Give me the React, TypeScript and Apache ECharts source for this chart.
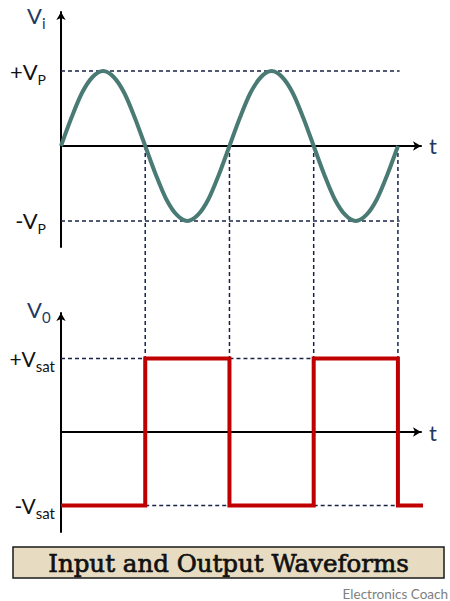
import React, { useEffect, useRef } from "react";
import * as echarts from "echarts";

// ---- data (time in periods of the input sine, amplitude in units of Vp / Vsat) ----
const inputT = [
  0, 0.0625, 0.125, 0.1875, 0.25, 0.3125, 0.375, 0.4375, 0.5, 0.5625, 0.625, 0.6875, 0.75, 0.8125, 0.875, 0.9375,
  1, 1.0625, 1.125, 1.1875, 1.25, 1.3125, 1.375, 1.4375, 1.5, 1.5625, 1.625, 1.6875, 1.75, 1.8125, 1.875, 1.9375, 2,
];
const inputV = [
  0, 0.38, 0.71, 0.92, 1, 0.92, 0.71, 0.38, 0, -0.38, -0.71, -0.92, -1, -0.92, -0.71, -0.38,
  0, 0.38, 0.71, 0.92, 1, 0.92, 0.71, 0.38, 0, -0.38, -0.71, -0.92, -1, -0.92, -0.71, -0.38, 0,
];
const outputT = [0, 0.5, 1, 1.5, 2, 2.16];
const outputV = [-1, 1, -1, 1, -1, -1];
const crossings = [0.5, 1, 1.5, 2];
const inputRefLevels = [1, -1];
const inputRefEnd = 2.01;
const satHighSegments = [[0, 0.5], [1, 1.5]];
const satLowSegments = [[0.5, 1], [1.5, 2]];
const inputTickValues = [1, -1];
const inputTickMain = ["+V", "-V"];
const inputTickSub = ["P", "P"];
const outputTickValues = [1, -1];
const outputTickMain = ["+V", "-V"];
const outputTickSub = ["sat", "sat"];

const NAVY = "#1f3864";
const DASH = "#18234a";
const FONT = "Lato";

export default function App() {
  const ref = useRef<HTMLDivElement>(null);
  useEffect(() => {
    if (!ref.current) return;
    const chart = echarts.init(ref.current, null, { renderer: "svg" });

    const axisLine = {
      onZero: true,
      symbol: ["none", "arrow"],
      symbolSize: [7, 8],
      lineStyle: { color: "#000", width: 2 },
    };
    const xAxisBase = (gridIndex: number) => ({
      type: "value",
      gridIndex,
      min: 0,
      max: 2.137,
      axisLine,
      axisTick: { show: false },
      axisLabel: { show: false },
      splitLine: { show: false },
      name: "t",
      nameLocation: "end",
      nameGap: 8,
      nameTextStyle: { color: NAVY, fontSize: 22, fontFamily: FONT, verticalAlign: "middle" },
    });
    const richLabel = (mainSize: number, subSize: number) => ({
      m: { fontSize: mainSize, fontFamily: FONT, color: "#111", lineHeight: 30 },
      s: { fontSize: subSize, fontFamily: FONT, color: "#111", lineHeight: 14, verticalAlign: "bottom" },
    });

    const dashedStyle = { color: DASH, width: 1.5, type: [4, 3] as any };
    const dashSeries = (xAxisIndex: number, y: number, a: number, b: number) => ({
      type: "line",
      xAxisIndex,
      yAxisIndex: xAxisIndex,
      data: [[a, y], [b, y]],
      symbol: "none",
      silent: true,
      z: 1,
      lineStyle: dashedStyle,
    });

    const series: any[] = [
      {
        type: "line",
        xAxisIndex: 0,
        yAxisIndex: 0,
        data: inputT.map((t, i) => [t, inputV[i]]),
        smooth: 0.3,
        symbol: "none",
        z: 5,
        lineStyle: { color: "#4a7a74", width: 4 },
      },
      {
        type: "line",
        xAxisIndex: 1,
        yAxisIndex: 1,
        data: outputT.map((t, i) => [t, outputV[i]]),
        step: "end",
        symbol: "none",
        clip: false,
        z: 5,
        lineStyle: { color: "#c00000", width: 4, join: "miter" },
      },
      ...inputRefLevels.map((v) => dashSeries(0, v, 0, inputRefEnd)),
      ...satHighSegments.map((s) => dashSeries(1, 1, s[0], s[1])),
      ...satLowSegments.map((s) => dashSeries(1, -1, s[0], s[1])),
    ];

    chart.setOption({
      animation: false,
      backgroundColor: "#fff",
      grid: [
        { left: 61, width: 360, top: 12, height: 235 },
        { left: 61, width: 360, top: 313, height: 219 },
      ],
      xAxis: [xAxisBase(0), xAxisBase(1)],
      yAxis: [
        {
          type: "value",
          gridIndex: 0,
          min: -1.347,
          max: 1.787,
          axisLine,
          axisTick: { show: false },
          splitLine: { show: false },
          axisLabel: {
            customValues: inputTickValues,
            margin: 15,
            formatter: (v: number) => {
              const i = inputTickValues.indexOf(v);
              return i < 0 ? "" : `{m|${inputTickMain[i]}}{s|${inputTickSub[i]}}`;
            },
            rich: richLabel(22, 14),
          },
        },
        {
          type: "value",
          gridIndex: 1,
          min: -1.36,
          max: 1.619,
          axisLine,
          axisTick: { show: false },
          splitLine: { show: false },
          axisLabel: {
            customValues: outputTickValues,
            margin: 6,
            formatter: (v: number) => {
              const i = outputTickValues.indexOf(v);
              return i < 0 ? "" : `{m|${outputTickMain[i]}}{s|${outputTickSub[i]}}`;
            },
            rich: richLabel(21, 15),
          },
        },
      ],
      series,
    });

    const verticals = crossings.map((t) => {
      const p1 = chart.convertToPixel({ xAxisIndex: 0, yAxisIndex: 0 }, [t, 0]) as number[];
      const p2 = chart.convertToPixel({ xAxisIndex: 1, yAxisIndex: 1 }, [t, 1]) as number[];
      return {
        type: "line",
        silent: true,
        z: 1,
        shape: { x1: p1[0], y1: p1[1], x2: p2[0], y2: p2[1] },
        style: { stroke: DASH, lineWidth: 1.5, lineDash: [4, 3] },
      };
    });

    const axisTitle = (main: string, sub: string, x: number, y: number) => ({
      type: "text",
      x,
      y,
      style: {
        text: `{m|${main}}{s|${sub}}`,
        verticalAlign: "middle",
        rich: {
          m: { fontSize: 22, fontFamily: FONT, fill: NAVY, lineHeight: 30 },
          s: { fontSize: 15, fontFamily: FONT, fill: NAVY, lineHeight: 14, verticalAlign: "bottom" },
        },
      },
    });

    chart.setOption({
      graphic: [
        ...verticals,
        axisTitle("V", "i", 27, 15),
        axisTitle("V", "0", 27, 309),
        {
          type: "rect",
          shape: { x: 13, y: 547, width: 431, height: 31 },
          style: { fill: "#e7dcc1", stroke: "#1a1a1a", lineWidth: 1.5 },
        },
        {
          type: "text",
          x: 228.5,
          y: 563,
          style: {
            text: "Input and Output Waveforms",
            fontFamily: "DejaVu Serif",
            fontSize: 24.5,
            fill: "#111",
            stroke: "#111",
            lineWidth: 0.7,
            align: "center",
            verticalAlign: "middle",
          },
        },
        {
          type: "text",
          x: 448,
          y: 594,
          style: {
            text: "Electronics Coach",
            fontFamily: FONT,
            fontSize: 13.5,
            fill: "#808080",
            align: "right",
            verticalAlign: "middle",
          },
        },
      ],
    });

    return () => chart.dispose();
  }, []);

  return (
    <div
      ref={ref}
      style={{ position: "fixed", left: 0, top: 0, width: 450, height: 601, background: "#fff" }}
    />
  );
}
